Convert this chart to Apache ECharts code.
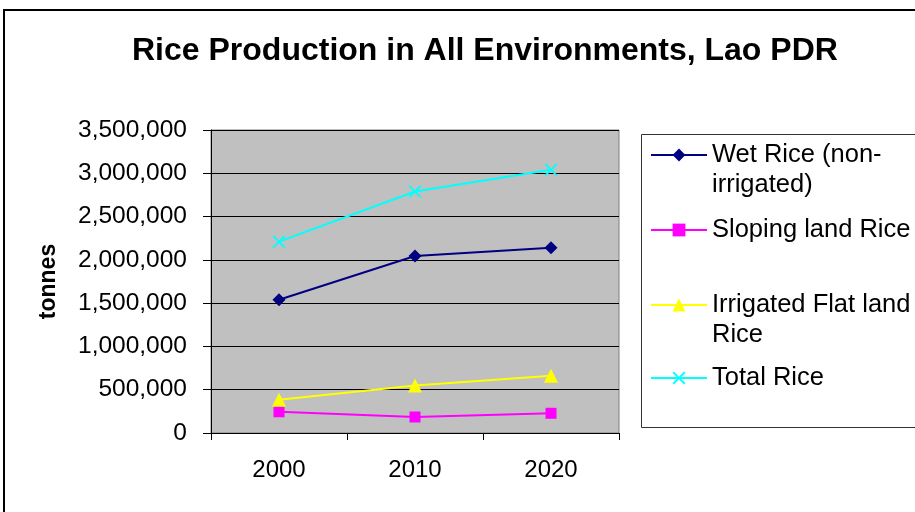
<!DOCTYPE html>
<html><head><meta charset="utf-8">
<script src="https://cdn.jsdelivr.net/npm/echarts@6/dist/echarts.min.js"></script>
<style>html,body{margin:0;padding:0;background:#fff}#c{width:915px;height:512px}</style>
</head><body><div id="c"></div>
<script>
var categories = ['2000', '2010', '2020'];
var wetRice = [1540000, 2045000, 2140000];
var slopingRice = [245000, 185000, 228000];
var irrigatedRice = [385000, 548000, 662000];
var totalRice = [2210000, 2790000, 3040000];
var seriesNames = ['Wet Rice (non-irrigated)', 'Sloping land Rice', 'Irrigated Flat land Rice', 'Total Rice'];
var legendLabels = ['\nWet Rice (non-\nirrigated)', 'Sloping land Rice', '\nIrrigated Flat land\nRice', 'Total Rice'];
var yTicks = { min: 0, max: 3500000, interval: 500000 };

var FONT = '"Liberation Sans", Arial, sans-serif';
function fmt(v) { return String(v).replace(/\B(?=(\d{3})+(?!\d))/g, ','); }
var crossPath = 'path://M0,1 L1,0 L5,4 L9,0 L10,1 L6,5 L10,9 L9,10 L5,6 L1,10 L0,9 L4,5 Z';

var colors = ['#000080', '#ff00ff', '#ffff00', '#00ffff'];
var symbols = ['diamond', 'rect', 'triangle', crossPath];
var sizes = [13, 11, 14, 13];
var datas = [wetRice, slopingRice, irrigatedRice, totalRice];
var legendCenters = [155, 230, 305, 378];
var legendTops = [legendCenters[0] - 45, legendCenters[1] - 15, legendCenters[2] - 45, legendCenters[3] - 15];

var series = datas.map(function (d, i) {
  return {
    name: seriesNames[i], type: 'line', data: d,
    symbol: symbols[i], symbolSize: sizes[i], showSymbol: true,
    lineStyle: { color: colors[i], width: 2 },
    itemStyle: { color: colors[i], borderWidth: 0 },
    emphasis: { disabled: true }, animation: false, z: 3 + i
  };
});

var legends = seriesNames.map(function (n, i) {
  return {
    data: [n], left: 650, top: legendTops[i], orient: 'vertical',
    itemWidth: 56, itemHeight: 16, itemGap: 0, padding: 0,
    formatter: function () { return legendLabels[i]; },
    textStyle: { fontFamily: FONT, fontSize: 25.5, color: '#000', lineHeight: 30 },
    selectedMode: false
  };
});

var chart = echarts.init(document.getElementById('c'), null, { renderer: 'canvas' });
chart.setOption({
  animation: false,
  backgroundColor: '#fff',
  title: {
    text: 'Rice Production in All Environments, Lao PDR',
    left: 127, top: 30,
    textStyle: { fontFamily: FONT, fontSize: 32, fontWeight: 'bold', color: '#000' }
  },
  graphic: [
    { type: 'rect', shape: { x: 4, y: 10, width: 1000, height: 1000 }, style: { fill: 'none', stroke: '#000', lineWidth: 2 }, z: -10 },
    { type: 'rect', shape: { x: 641.5, y: 134.5, width: 400, height: 293 }, style: { fill: '#fff', stroke: '#333', lineWidth: 1 }, z: -5 }
  ],
  legend: legends,
  grid: { left: 211, top: 130, width: 408, height: 303, show: true, backgroundColor: '#c0c0c0', borderColor: '#808080', borderWidth: 1, containLabel: false },
  xAxis: {
    type: 'category', data: categories, boundaryGap: true,
    axisLine: { lineStyle: { color: '#000', width: 1 } },
    axisTick: { show: true, length: 7, lineStyle: { color: '#000' } },
    axisLabel: { fontFamily: FONT, fontSize: 24, color: '#000', margin: 25 },
    splitLine: { show: false }
  },
  yAxis: {
    type: 'value', min: yTicks.min, max: yTicks.max, interval: yTicks.interval,
    name: 'tonnes', nameLocation: 'middle', nameRotate: 90, nameGap: 151,
    nameTextStyle: { fontFamily: FONT, fontSize: 23, fontWeight: 'bold', color: '#000' },
    axisLine: { show: true, lineStyle: { color: '#000', width: 1 } },
    axisTick: { show: true, length: 8, lineStyle: { color: '#000' } },
    axisLabel: { fontFamily: FONT, fontSize: 24.5, color: '#000', margin: 24, formatter: fmt },
    splitLine: { show: true, lineStyle: { color: '#000', width: 1 } }
  },
  series: series
});
</script></body></html>
